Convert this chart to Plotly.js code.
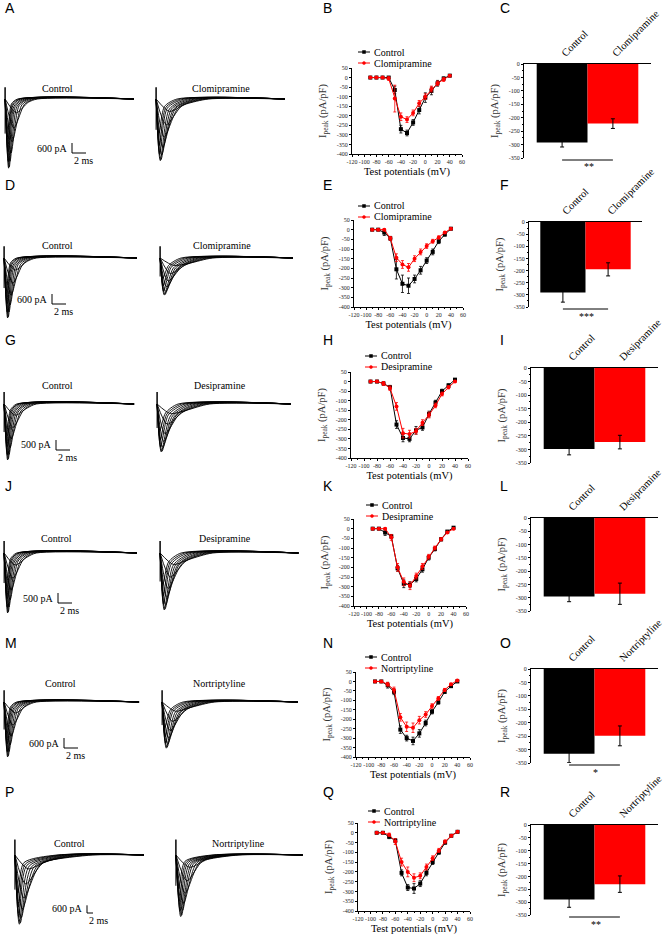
<!DOCTYPE html>
<html>
<head>
<meta charset="utf-8">
<script src="https://cdn.plot.ly/plotly-3.0.1.min.js"></script>
<style>
  html, body { margin: 0; padding: 0; background: #fff; }
  #chart { width: 666px; height: 937px; }
</style>
</head>
<body>
<div id="chart"></div>
<script>
// ---- data ----
const voltages = [-90, -80, -70, -60, -50, -40, -30, -20, -10, 0, 10, 20, 30, 40];
const drugNames = ['Clomipramine', 'Clomipramine', 'Desipramine', 'Desipramine', 'Nortriptyline', 'Nortriptyline'];
const panelLetters = [['A', 'B', 'C'], ['D', 'E', 'F'], ['G', 'H', 'I'], ['J', 'K', 'L'], ['M', 'N', 'O'], ['P', 'Q', 'R']];
const scaleBarPA = [600, 600, 500, 500, 600, 600];
const scaleBarMs = 2;

// I-V curves (pA/pF), mean and error
const ivCtrl = [
    [0, 0, 0, 0, -65, -270, -290, -235, -170, -105, -70, -30, -5, 10],
    [0, 0, -15, -45, -205, -280, -290, -255, -210, -160, -115, -60, -25, 5],
    [0, 0, -10, -30, -225, -295, -300, -255, -240, -170, -110, -50, -20, 10],
    [0, 0, -20, -40, -205, -285, -290, -260, -210, -150, -105, -55, -15, 5],
    [0, 0, -20, -55, -255, -300, -315, -275, -220, -160, -110, -55, -25, 0],
    [0, 0, -20, -40, -205, -280, -285, -260, -205, -150, -100, -50, -15, 5],
];
const ivCtrlErr = [
    [3, 3, 5, 5, 20, 20, 15, 15, 20, 25, 20, 15, 8, 5],
    [3, 3, 15, 10, 50, 45, 40, 20, 20, 15, 15, 12, 8, 5],
    [3, 3, 8, 10, 20, 20, 15, 20, 15, 15, 12, 10, 8, 5],
    [3, 3, 15, 10, 15, 20, 15, 15, 15, 12, 10, 8, 5, 5],
    [3, 3, 15, 15, 20, 15, 20, 20, 15, 12, 10, 8, 5, 5],
    [3, 3, 10, 10, 15, 15, 25, 15, 15, 12, 10, 8, 5, 5],
];
const ivDrug = [
    [0, 0, 0, -5, -110, -205, -220, -185, -135, -100, -60, -30, -10, 10],
    [0, 0, 0, -45, -145, -180, -195, -150, -115, -85, -60, -40, -15, 5],
    [0, 0, -10, -35, -130, -270, -275, -260, -215, -175, -125, -65, -30, 0],
    [0, 0, 0, -45, -200, -275, -295, -245, -195, -145, -100, -55, -20, 0],
    [0, 0, -15, -45, -190, -240, -245, -205, -175, -130, -90, -45, -15, 5],
    [0, 0, -10, -45, -150, -200, -230, -220, -175, -130, -90, -45, -15, 5],
];
const ivDrugErr = [
    [3, 3, 3, 10, 70, 20, 15, 15, 15, 15, 15, 12, 10, 5],
    [3, 3, 5, 10, 20, 20, 20, 15, 15, 12, 10, 8, 5, 5],
    [3, 3, 10, 12, 20, 25, 20, 15, 15, 15, 12, 10, 8, 5],
    [3, 3, 5, 15, 20, 20, 20, 15, 15, 12, 10, 8, 5, 5],
    [3, 3, 10, 15, 20, 25, 25, 20, 15, 12, 10, 8, 5, 5],
    [3, 3, 8, 15, 20, 25, 20, 15, 15, 12, 10, 8, 5, 5],
];
const ivXTicks = [-120, -100, -80, -60, -40, -20, 0, 20, 40, 60];
const ivYTicks = [50, 0, -50, -100, -150, -200, -250, -300, -350, -400];

// peak current density bars (pA/pF)
const barCtrl = [-292, -290, -298, -295, -316, -290];
const barCtrlErr = [17, 40, 22, 20, 33, 30];
const barDrug = [-222, -195, -273, -285, -249, -230];
const barDrugErr = [18, 27, 25, 40, 37, 32];
const barYTicks = [0, -50, -100, -150, -200, -250, -300, -350];
const signif = ['**', '***', '', '', '*', '**'];

// current traces (ms, pA): one entry per test pulse
// rows A-M share a fast kinetic, row P was recorded on a slower time base
const ctrlPeakT = [0.35, 0.4, 0.45, 0.5, 0.6, 0.7, 0.85, 1.0, 1.25, 1.6];
const ctrlTailT = [0.9, 1.0, 1.1, 1.25, 1.45, 1.7, 2.0, 2.4, 2.8, 3.3];
const ctrlTailI = [-300, -350, -400, -450, -450, -450, -400, -350, -300, -200];
const ctrlSettleT = [1.8, 2.0, 2.2, 2.5, 2.8, 3.1, 3.4, 3.8, 4.2, 4.6];
const drugPeakT = [0.4, 0.45, 0.5, 0.6, 0.7, 0.8, 0.95, 1.15, 1.45, 1.9];
const drugTailT = [1.2, 1.4, 1.6, 1.9, 2.2, 2.5, 2.8, 3.2, 3.7, 4.3];
const drugTailI = [-450, -500, -550, -600, -600, -600, -550, -500, -400, -300];
const drugSettleT = [3.0, 3.5, 4.0, 4.5, 5.0, 5.5, 6.0, 6.5, 7.0, 7.5];
const pCtrlPeakT = [1.0, 1.2, 1.3, 1.5, 1.8, 2.1, 2.5, 3.0, 3.6, 4.4];
const pCtrlTailT = [3.0, 3.5, 4.0, 4.8, 5.6, 6.5, 7.5, 8.5, 9.5, 11];
const pCtrlTailI = [-600, -700, -800, -850, -900, -900, -850, -750, -600, -450];
const pCtrlSettleT = [14, 15, 16, 17, 18, 19, 20, 22, 24, 26];
const pDrugPeakT = [1.0, 1.2, 1.4, 1.6, 1.9, 2.2, 2.6, 3.1, 3.7, 4.5];
const pDrugTailT = [3.0, 3.5, 4.0, 4.6, 5.3, 6.0, 7.0, 8.0, 9.0, 10.5];
const pDrugTailI = [-500, -550, -600, -650, -650, -650, -600, -550, -450, -350];
const pDrugSettleT = [12, 13, 14, 15, 16, 17, 18, 19, 20, 21];
const ctrlPeakI = [
    [-2280, -3110, -3735, -4150, -4070, -3735, -3240, -2570, -1740, -830],
    [-1980, -2700, -3240, -3600, -3530, -3240, -2810, -2230, -1510, -720],
    [-1540, -2100, -2520, -2800, -2740, -2520, -2180, -1740, -1180, -560],
    [-1650, -2250, -2700, -3000, -2940, -2700, -2340, -1860, -1260, -600],
    [-1820, -2480, -2970, -3300, -3230, -2970, -2570, -2050, -1390, -660],
    [-2970, -4050, -4860, -5400, -5290, -4860, -4210, -3350, -2270, -1080],
];
const drugPeakI = [
    [-2040, -2780, -3330, -3700, -3630, -3330, -2890, -2290, -1550, -740],
    [-1220, -1670, -2000, -2220, -2180, -2000, -1730, -1380, -930, -440],
    [-1320, -1800, -2160, -2400, -2350, -2160, -1870, -1490, -1010, -480],
    [-1570, -2140, -2570, -2850, -2790, -2570, -2220, -1770, -1200, -570],
    [-1520, -2080, -2490, -2770, -2710, -2490, -2160, -1720, -1160, -550],
    [-2640, -3600, -4320, -4800, -4700, -4320, -3740, -2980, -2020, -960],
];
const ctrlSweepMs = [18.4, 19, 18.6, 19, 19.3, 43];
const drugSweepMs = [18.4, 19, 19.1, 19.8, 19.4, 42.3];
const spikeI = [700, 700, 600, 600, 700, 1200];

// ---- page geometry (pixels of the 666x937 figure) ----
const W = 666, H = 937;
const px = x => x / W;
const py = y => 1 - y / H;
const geo = [
    {lab: 8,   cx: 3,  dx: 154, base: 99,  pa: 60, ms: 7, sb: [72, 153], cLbl: 58, dLbl: 221, lblY: 89,  lgX: 372, iv: [352, 462, 68, 154],  bar: [524, 651, 64, 158]},
    {lab: 185, cx: 2,  dx: 158, base: 258, pa: 60, ms: 7, sb: [52, 304], cLbl: 58, dLbl: 222, lblY: 246, lgX: 372, iv: [354, 463, 220, 307], bar: [529, 642, 222, 307]},
    {lab: 340, cx: 2,  dx: 155, base: 404, pa: 50, ms: 7, sb: [56, 450], cLbl: 57, dLbl: 220, lblY: 385, lgX: 379, iv: [351, 468, 372, 458], bar: [531, 658, 368, 463]},
    {lab: 486, cx: 2,  dx: 158, base: 553, pa: 50, ms: 7, sb: [58, 603], cLbl: 56, dLbl: 225, lblY: 538, lgX: 380, iv: [354, 466, 519, 606], bar: [531, 658, 518, 611]},
    {lab: 643, cx: 2,  dx: 160, base: 702, pa: 60, ms: 7, sb: [64, 748], cLbl: 60, dLbl: 219, lblY: 683, lgX: 379, iv: [356, 470, 672, 757], bar: [531, 658, 669, 763]},
    {lab: 792, cx: 14, dx: 175, base: 855, pa: 78, ms: 3, sb: [87, 913], cLbl: 69, dLbl: 238, lblY: 843, lgX: 382, iv: [358, 470, 823, 911], bar: [531, 658, 825, 915]},
];
const lgDY = [[-16, -5], [-14, -3], [-16, -5], [-14, -3], [-15, -4], [-12, -1]];

const serif = '"Liberation Serif", "Times New Roman", serif';
const data = [];
const layout = {
    width: W, height: H,
    margin: {l: 0, r: 0, t: 0, b: 0},
    paper_bgcolor: '#ffffff',
    plot_bgcolor: 'rgba(0,0,0,0)',
    font: {family: serif, color: '#000', size: 10},
    showlegend: false,
    annotations: [],
    shapes: [],
};

let axN = 0;
function addAxes(xDom, yDom, xOpt, yOpt) {
    axN++;
    const s = axN === 1 ? '' : String(axN);
    layout['xaxis' + s] = Object.assign({domain: xDom, anchor: 'y' + s, fixedrange: true}, xOpt);
    layout['yaxis' + s] = Object.assign({domain: yDom, anchor: 'x' + s, fixedrange: true}, yOpt);
    return {x: 'x' + s, y: 'y' + s};
}

function text(t, x, y, opt) {
    layout.annotations.push(Object.assign({
        text: t, x: px(x), y: py(y), xref: 'paper', yref: 'paper',
        xanchor: 'center', yanchor: 'middle',
        showarrow: false, font: {family: serif, size: 10, color: '#000'},
    }, opt));
}

function traceFamily(r, g, x0, sweep, peakT, peakI, tailT, tailI, settleT, withBar) {
    const ax = addAxes([px(x0), px(x0 + (sweep + 0.3) * g.ms)], [py(g.base + 80), py(g.base - 20)],
        {visible: false, range: [-0.3, sweep]},
        {visible: false, range: [-80 * g.pa, 20 * g.pa]});
    const deepest = Math.min(...peakI);
    data.push({x: [0, 0, 0], y: [0, spikeI[r], deepest * 0.5], xaxis: ax.x, yaxis: ax.y,
        mode: 'lines', line: {color: '#000', width: 1}, hoverinfo: 'skip'});
    peakT.forEach((t, i) => {
        data.push({
            x: [0, t, tailT[i], settleT[i], sweep],
            y: [0, peakI[i], tailI[i], 0, 0],
            xaxis: ax.x, yaxis: ax.y, mode: 'lines',
            line: {color: '#000', width: 0.9, shape: 'spline', smoothing: 0.7},
            hoverinfo: 'skip',
        });
    });
    if (withBar) {
        const t = (g.sb[0] - x0) / g.ms - 0.3;
        const i = (g.base - g.sb[1]) * g.pa;
        data.push({x: [t, t, t + scaleBarMs], y: [i + scaleBarPA[r], i, i],
            xaxis: ax.x, yaxis: ax.y, mode: 'lines', line: {color: '#000', width: 1},
            hoverinfo: 'skip'});
        text(scaleBarPA[r] + ' pA', g.sb[0] - 2, g.sb[1] - 5, {xanchor: 'right'});
        text(scaleBarMs + ' ms', g.sb[0], g.sb[1] + 7, {xanchor: 'left'});
    }
}

geo.forEach((g, r) => {
    // panel letters
    [3, 321, 498].forEach((lx, k) => {
        text(panelLetters[r][k], lx, g.lab, {xanchor: 'left',
            font: {family: '"Liberation Sans", Arial, sans-serif', size: 14, color: '#000'}});
    });

    // traces
    const slow = r === 5;
    traceFamily(r, g, g.cx, ctrlSweepMs[r],
        slow ? pCtrlPeakT : ctrlPeakT, ctrlPeakI[r],
        slow ? pCtrlTailT : ctrlTailT, slow ? pCtrlTailI : ctrlTailI,
        slow ? pCtrlSettleT : ctrlSettleT, true);
    traceFamily(r, g, g.dx, drugSweepMs[r],
        slow ? pDrugPeakT : drugPeakT, drugPeakI[r],
        slow ? pDrugTailT : drugTailT, slow ? pDrugTailI : drugTailI,
        slow ? pDrugSettleT : drugSettleT, false);
    text('Control', g.cLbl, g.lblY);
    text(drugNames[r], g.dLbl, g.lblY);

    // I-V curve
    const [ix0, ix1, iyt, iyb] = g.iv;
    const tickFont = {family: serif, size: 6, color: '#222'};
    const iv = addAxes([px(ix0), px(ix1)], [py(iyb), py(iyt)], {
        range: [-120, 60], tickvals: ivXTicks, ticktext: ivXTicks.map(String), tickangle: 0,
        showline: true, linecolor: '#000', linewidth: 1, ticks: 'outside', ticklen: 2,
        tickcolor: '#000', tickfont: tickFont, showgrid: false, zeroline: false,
        minor: {ticks: 'outside', ticklen: 1, tickvals: [-110, -90, -70, -50, -30, -10, 10, 30, 50]},
        title: {text: 'Test potentials (mV)', font: {family: serif, size: 10.5}, standoff: 3},
    }, {
        range: [-400, 50], tickvals: ivYTicks, ticktext: ivYTicks.map(String),
        showline: true, linecolor: '#000', linewidth: 1, ticks: 'outside', ticklen: 2,
        tickcolor: '#000', tickfont: tickFont, showgrid: false, zeroline: false,
        title: {text: 'I<sub>peak</sub> (pA/pF)', font: {family: serif, size: 10.5, color: '#333'}, standoff: 8},
    });
    data.push({x: voltages, y: ivCtrl[r], name: 'Control',
        error_y: {type: 'data', array: ivCtrlErr[r], color: '#000', thickness: 0.8, width: 1.5},
        xaxis: iv.x, yaxis: iv.y, mode: 'lines+markers',
        line: {color: '#000', width: 1}, marker: {color: '#000', size: 4, symbol: 'square'}});
    data.push({x: voltages, y: ivDrug[r], name: drugNames[r],
        error_y: {type: 'data', array: ivDrugErr[r], color: '#ff0000', thickness: 0.8, width: 1.5},
        xaxis: iv.x, yaxis: iv.y, mode: 'lines+markers',
        line: {color: '#ff0000', width: 1}, marker: {color: '#ff0000', size: 4, symbol: 'circle'}});

    // legend (drawn beside the plot as in the figure)
    [['Control', '#000', 'rect'], [drugNames[r], '#ff0000', 'circle']].forEach(([name, col, sym], k) => {
        const ly = iyt + lgDY[r][k];
        const lx = g.lgX;
        layout.shapes.push({type: 'line', xref: 'paper', yref: 'paper',
            x0: px(lx - 14), x1: px(lx - 2), y0: py(ly), y1: py(ly), line: {color: col, width: 1}});
        layout.shapes.push({type: sym, xref: 'paper', yref: 'paper',
            x0: px(lx - 9.5), x1: px(lx - 6.5), y0: py(ly + 1.5), y1: py(ly - 1.5),
            fillcolor: col, line: {color: col, width: 0.5}});
        text(name, lx, ly, {xanchor: 'left', font: {family: serif, size: 10, color: '#000'}});
    });

    // bar chart
    const [bx0, bx1, by0, by350] = g.bar;
    const b = addAxes([px(bx0), px(bx1)], [py(by350), py(by0)], {
        range: [-0.75, 1.75], side: 'top', tickvals: [0, 1], ticktext: ['Control', drugNames[r]],
        tickangle: -45, ticks: '', showline: true, linecolor: '#000', linewidth: 1,
        showgrid: false, zeroline: false, tickfont: {family: serif, size: 10.5},
    }, {
        range: [-350, 0], tickvals: barYTicks, ticktext: barYTicks.map(String),
        showline: true, linecolor: '#000', linewidth: 1, ticks: 'outside', ticklen: 2,
        tickcolor: '#000', tickfont: tickFont, showgrid: false, zeroline: false,
        minor: {ticks: 'outside', ticklen: 1, tickvals: [-25, -75, -125, -175, -225, -275, -325]},
        title: {text: 'I<sub>peak</sub> (pA/pF)', font: {family: serif, size: 10.5, color: '#333'}, standoff: 8},
    });
    data.push({type: 'bar', x: [0, 1], y: [barCtrl[r], barDrug[r]], width: [1, 1],
        marker: {color: ['#000000', '#ff0000'], line: {width: 0}},
        error_y: {type: 'data', array: [barCtrlErr[r], barDrugErr[r]], color: '#000', thickness: 1, width: 2},
        xaxis: b.x, yaxis: b.y, hoverinfo: 'skip'});
    if (signif[r]) {
        layout.shapes.push({type: 'line', xref: b.x, yref: 'paper', x0: 0, x1: 1,
            y0: py(by350 + 2), y1: py(by350 + 2), line: {color: '#000', width: 1}});
        text(signif[r], (bx0 + bx1) / 2 + 1, by350 + 9);
    }
});

Plotly.newPlot('chart', data, layout, {displayModeBar: false, staticPlot: true});
</script>
</body>
</html>
